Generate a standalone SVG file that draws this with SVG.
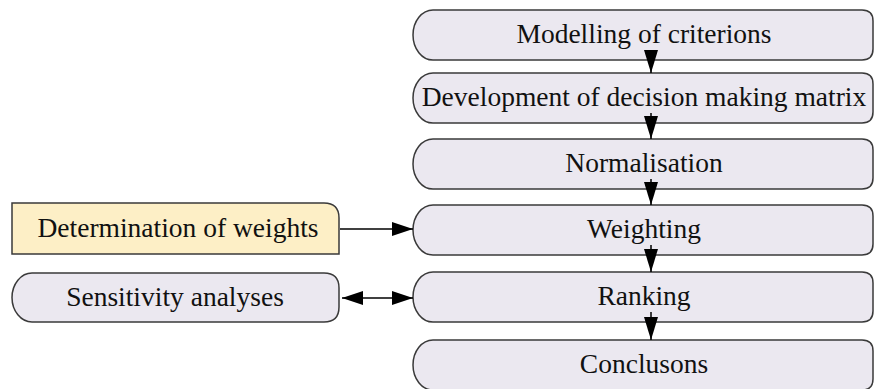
<svg xmlns="http://www.w3.org/2000/svg" width="877" height="389" viewBox="0 0 877 389">
<style>
.n{fill:#ebe8f0;stroke:#3a3a3a;stroke-width:1.5}
.y{fill:#fdefc6;stroke:#3a3a3a;stroke-width:1.5}
.t{font-family:"Liberation Serif","Times New Roman",serif;font-size:27.5px;fill:#111;text-anchor:middle}
.c{stroke:#000;stroke-width:1.5;fill:none}
</style>
<defs>
<marker id="ah" viewBox="0 0 23 14" refX="23" refY="7" markerWidth="23" markerHeight="14" markerUnits="userSpaceOnUse" orient="auto-start-reverse">
<path d="M0,0 L23,7 L0,14 Z" fill="#000"/>
</marker>
<marker id="ah2" viewBox="0 0 21 14" refX="21" refY="7" markerWidth="21" markerHeight="14" markerUnits="userSpaceOnUse" orient="auto-start-reverse">
<path d="M0,0 L21,7 L0,14 Z" fill="#000"/>
</marker>
</defs>
<rect width="877" height="389" fill="#fff"/>
<g id="n1"><path class="n" d="M433,10 H862 Q873,10 873,21 V49 Q873,60 862,60 H433 A20,25 0 0 1 433,10 Z"/><text class="t" x="644" y="43">Modelling of criterions</text></g>
<g id="n2"><path class="n" d="M433,73 H862 Q873,73 873,84 V112 Q873,123 862,123 H433 A20,25 0 0 1 433,73 Z"/><text class="t" x="644" y="106">Development of decision making matrix</text></g>
<g id="n3"><path class="n" d="M433,139 H862 Q873,139 873,150 V178 Q873,189 862,189 H433 A20,25 0 0 1 433,139 Z"/><text class="t" x="644" y="172">Normalisation</text></g>
<g id="n4"><path class="n" d="M433,205 H862 Q873,205 873,216 V244 Q873,255 862,255 H433 A20,25 0 0 1 433,205 Z"/><text class="t" x="644" y="238">Weighting</text></g>
<g id="n5"><path class="n" d="M433,272 H862 Q873,272 873,283 V311 Q873,322 862,322 H433 A20,25 0 0 1 433,272 Z"/><text class="t" x="644" y="305">Ranking</text></g>
<g id="n6"><path class="n" d="M433,340 H862 Q873,340 873,351 V379 Q873,390 862,390 H433 A20,25 0 0 1 433,340 Z"/><text class="t" x="644" y="373">Conclusons</text></g>
<g id="det"><path class="y" d="M12,203 H324 Q339,203 339,218 V254 H12 Z"/><text class="t" x="178" y="237">Determination of weights</text></g>
<g id="sens"><path class="n" d="M32,273 H324 Q339,273 339,288 V307 Q339,322 324,322 H32 A20,24.5 0 0 1 32,273 Z"/><text class="t" x="175" y="306">Sensitivity analyses</text></g>
<g id="connectors">
<line class="c" x1="651" y1="50" x2="651" y2="73" marker-end="url(#ah)"/>
<line class="c" x1="651" y1="113" x2="651" y2="139" marker-end="url(#ah)"/>
<line class="c" x1="651" y1="179" x2="651" y2="205" marker-end="url(#ah)"/>
<line class="c" x1="651" y1="245" x2="651" y2="272" marker-end="url(#ah)"/>
<line class="c" x1="651" y1="312" x2="651" y2="340" marker-end="url(#ah)"/>
<line class="c" x1="340" y1="229" x2="413" y2="229" marker-end="url(#ah2)"/>
<line class="c" x1="342" y1="298" x2="413" y2="298" marker-start="url(#ah2)" marker-end="url(#ah2)"/>
</g>
</svg>
